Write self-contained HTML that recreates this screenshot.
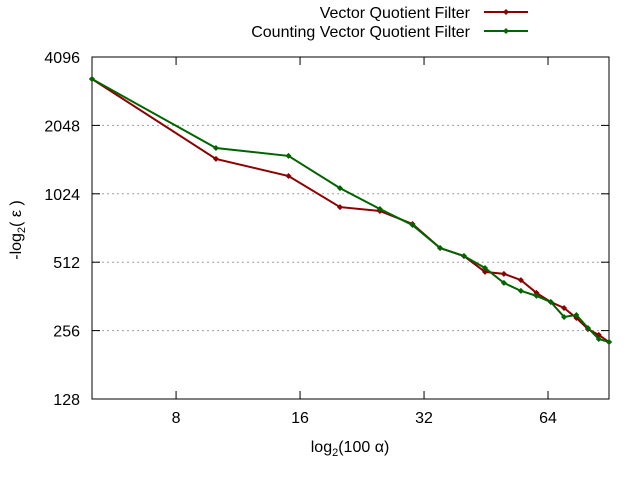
<!DOCTYPE html>
<html><head><meta charset="utf-8"><style>
body{margin:0;background:#fff;}
svg text{font-family:"Liberation Sans",sans-serif;font-size:16px;fill:#000;}
</style></head><body>
<svg id="chart" width="640" height="480" xmlns="http://www.w3.org/2000/svg"></svg>
<script>
const xValues=[5,10,15,20,25,30,35,40,45,50,55,60,65,70,75,80,85,90];
const vqfValues=[3278,1458,1226,895,860,754,591,545,464,455,427,375,342,322,291,260,245,228];
const cvqfValues=[3278,1629,1503,1085,878,746,591,545,483,415,383,364,342,294,300,263,235,228];
const xTicks=[8,16,32,64];
const yTicks=[128,256,512,1024,2048,4096];
const seriesNames=["Vector Quotient Filter","Counting Vector Quotient Filter"];
const L=92,R=609,T=57,B=399;
const xmin=5,xmax=90,ymin=128,ymax=4096;
const xs=v=>L+(Math.log2(v)-Math.log2(xmin))/(Math.log2(xmax)-Math.log2(xmin))*(R-L);
const ys=v=>B-(Math.log2(v)-Math.log2(ymin))/(Math.log2(ymax)-Math.log2(ymin))*(B-T);
const svg=document.getElementById('chart');
const NS='http://www.w3.org/2000/svg';
function mk(tag,attrs,parent){const e=document.createElementNS(NS,tag);for(const k in attrs)e.setAttribute(k,attrs[k]);(parent||svg).appendChild(e);return e;}
yTicks.forEach(t=>{const y=ys(t);
 if(t>ymin&&t<ymax){const g=mk('line',{x1:L,x2:R,y1:y,y2:y,stroke:'#a0a0a0','stroke-dasharray':'2,3','stroke-width':1});
 
 }
 mk('line',{x1:L,x2:L+8,y1:y,y2:y,stroke:'#000'});
 mk('line',{x1:R,x2:R-8,y1:y,y2:y,stroke:'#000'});
 const tx=mk('text',{x:L-12,y:y+6,'text-anchor':'end'});tx.textContent=t;
 
 
});
xTicks.forEach(t=>{const x=xs(t);
 mk('line',{x1:x,x2:x,y1:B,y2:B-8,stroke:'#000'});
 mk('line',{x1:x,x2:x,y1:T,y2:T+8,stroke:'#000'});
 const tx=mk('text',{x:x,y:B+24,'text-anchor':'middle'});tx.textContent=t;
 
 
});
const border=mk('rect',{x:L,y:T,width:R-L,height:B-T,fill:'none',stroke:'#000','stroke-width':1});


const xt=mk('text',{x:350,y:452,'text-anchor':'middle'});
xt.innerHTML='log<tspan dy="4" font-size="11">2</tspan><tspan dy="-4">(100 α)</tspan>';


const yt=mk('text',{transform:'translate(21,230) rotate(-90)','text-anchor':'middle'});
yt.innerHTML='-log<tspan dy="4" font-size="11">2</tspan><tspan dy="-4">( ε )</tspan>';


function series(vals,color,name,ly,label){
 const pts=xValues.map((x,i)=>xs(x)+','+ys(vals[i])).join(' ');
 const pl=mk('polyline',{points:pts,fill:'none',stroke:color,'stroke-width':2});
 
 
 xValues.forEach((x,i)=>{const cx=xs(x),cy=ys(vals[i]);
  const p=mk('path',{d:`M${cx-3},${cy}L${cx},${cy-3}L${cx+3},${cy}L${cx},${cy+3}Z`,fill:color});
  
  
 });
 const lt=mk('text',{x:470,y:ly+6,'text-anchor':'end'});lt.textContent=label;
 
 
 const ll=mk('line',{x1:484,x2:528,y1:ly,y2:ly,stroke:color,'stroke-width':2});
 
 
 const lp=mk('path',{d:`M503,${ly}L506,${ly-3}L509,${ly}L506,${ly+3}Z`,fill:color});
 
 
}
series(vqfValues,'#8b0000','vqf',12,seriesNames[0]);
series(cvqfValues,'#006400','cvqf',31,seriesNames[1]);
</script>
</body></html>
